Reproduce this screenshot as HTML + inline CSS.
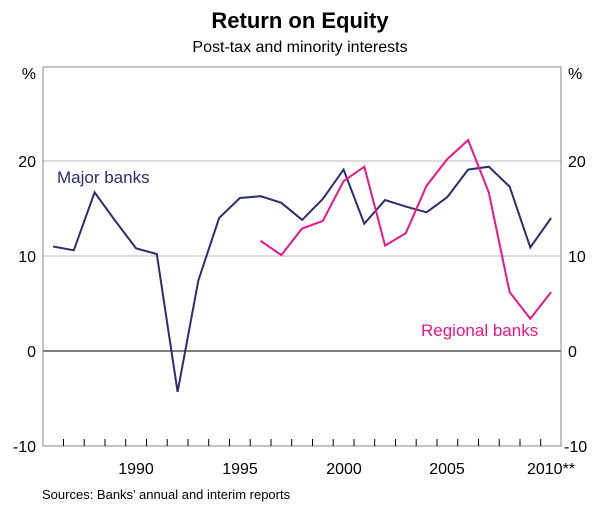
<!DOCTYPE html>
<html><head><style>body{margin:0;background:#fff}</style></head><body>
<svg width="600" height="508" xmlns="http://www.w3.org/2000/svg" font-family="Liberation Sans, Arial, sans-serif">
<rect width="600" height="508" fill="#fff"/>
<text x="300" y="28" text-anchor="middle" font-size="22" font-weight="bold">Return on Equity</text>
<text x="300" y="52" text-anchor="middle" font-size="16">Post-tax and minority interests</text>
<line x1="43" y1="161" x2="561" y2="161" stroke="#bbb"/>
<line x1="43" y1="256" x2="561" y2="256" stroke="#bbb"/>
<line x1="43" y1="351" x2="561" y2="351" stroke="#000"/>
<rect x="43" y="67" width="518" height="379" fill="none" stroke="#888"/>
<g font-size="16">
<text x="36" y="79" text-anchor="end">%</text><text x="568" y="79">%</text>
<text x="36" y="167" text-anchor="end">20</text><text x="568" y="167">20</text>
<text x="36" y="262" text-anchor="end">10</text><text x="568" y="262">10</text>
<text x="36" y="357" text-anchor="end">0</text><text x="568" y="357">0</text>
<text x="36" y="452" text-anchor="end">-10</text><text x="564" y="452">-10</text>
<text x="136" y="474" text-anchor="middle">1990</text>
<text x="240" y="474" text-anchor="middle">1995</text>
<text x="344" y="474" text-anchor="middle">2000</text>
<text x="447" y="474" text-anchor="middle">2005</text>
<text x="551" y="474" text-anchor="middle">2010**</text>
</g>
<text x="42" y="499" font-size="13">Sources: Banks’ annual and interim reports</text>
<text x="57" y="183" font-size="17" fill="#2e2d6e">Major banks</text>
<text x="421" y="336" font-size="17" fill="#e8178a">Regional banks</text>
<path stroke="#000" d="M63.5 446v-7M84.2 446v-7M105 446v-7M125.7 446v-7M146.5 446v-7M167.2 446v-7M188 446v-7M208.7 446v-7M229.5 446v-7M250.2 446v-7M271 446v-7M291.7 446v-7M312.5 446v-7M333.2 446v-7M354 446v-7M374.7 446v-7M395.5 446v-7M416.2 446v-7M437 446v-7M457.7 446v-7M478.5 446v-7M499.2 446v-7M520 446v-7M540.7 446v-7"/>
<polyline fill="none" stroke="#2e2d6e" stroke-width="2" points="53.1,246.5 73.8,250.3 94.6,192.4 115.3,220.9 136.1,248.4 156.8,254.1 177.6,391.9 198.3,280.7 219.1,218.0 239.8,198.0 260.6,196.2 281.3,202.8 302.1,219.9 322.8,199.0 343.6,169.6 364.3,223.7 385.1,200.0 405.8,206.6 426.6,212.3 447.3,197.1 468.1,169.6 488.8,166.7 509.6,186.6 530.3,247.5 551.1,218.0"/>
<polyline fill="none" stroke="#e8178a" stroke-width="2" points="260.6,240.8 281.3,255.1 302.1,228.5 322.8,220.9 343.6,181.0 364.3,166.7 385.1,245.6 405.8,233.2 426.6,185.7 447.3,159.1 468.1,140.1 488.8,192.4 509.6,292.1 530.3,318.7 551.1,292.1"/>
</svg>
</body></html>
